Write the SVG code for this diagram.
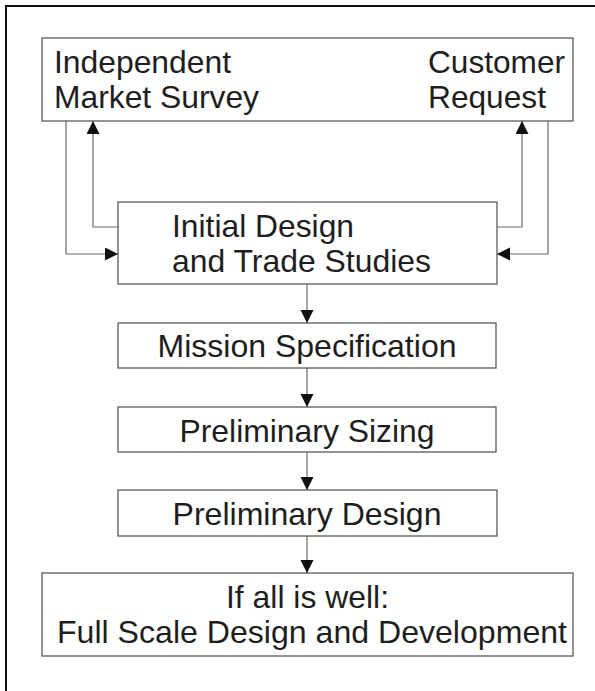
<svg xmlns="http://www.w3.org/2000/svg" width="595" height="691" viewBox="0 0 595 691">
  <style>
    .box { fill: #ffffff; stroke: #5a5a5a; stroke-width: 1.3; }
    .lbl { font-family: "Liberation Sans", Arial, sans-serif; font-size: 30.5px; fill: #1e1e1e; }
    .mid { text-anchor: middle; }
    .wire { fill: none; stroke: #6a6a6a; stroke-width: 1.2; }
  </style>
  <defs>
    <marker id="head" markerUnits="userSpaceOnUse" markerWidth="14" markerHeight="14" refX="13" refY="6.5" orient="auto">
      <path d="M0,0 L13,6.5 L0,13 z" fill="#111111"/>
    </marker>
  </defs>

  <rect width="595" height="691" fill="#ffffff"/>
  <!-- outer frame -->
  <path d="M6,700 L6,6 L600,6" fill="none" stroke="#111111" stroke-width="2"/>

  <g id="sources">
    <rect class="box" x="42" y="38" width="531" height="83"/>
    <text class="lbl" x="54" y="73" textLength="177" lengthAdjust="spacingAndGlyphs">Independent</text>
    <text class="lbl" x="54" y="108" textLength="205" lengthAdjust="spacingAndGlyphs">Market Survey</text>
    <text class="lbl" x="428" y="73" textLength="137" lengthAdjust="spacingAndGlyphs">Customer</text>
    <text class="lbl" x="428" y="108" textLength="118" lengthAdjust="spacingAndGlyphs">Request</text>
  </g>

  <g id="initial-design">
    <rect class="box" x="118" y="202" width="379" height="82"/>
    <text class="lbl" x="172" y="237" textLength="182" lengthAdjust="spacingAndGlyphs">Initial Design</text>
    <text class="lbl" x="172" y="272" textLength="259" lengthAdjust="spacingAndGlyphs">and Trade Studies</text>
  </g>

  <g id="mission-spec">
    <rect class="box" x="118" y="323" width="378" height="45"/>
    <text class="lbl mid" x="307" y="357" textLength="299" lengthAdjust="spacingAndGlyphs">Mission Specification</text>
  </g>

  <g id="prelim-sizing">
    <rect class="box" x="118" y="407" width="378" height="45"/>
    <text class="lbl mid" x="307" y="442" textLength="255" lengthAdjust="spacingAndGlyphs">Preliminary Sizing</text>
  </g>

  <g id="prelim-design">
    <rect class="box" x="118" y="490" width="379" height="46"/>
    <text class="lbl mid" x="307" y="525" textLength="269" lengthAdjust="spacingAndGlyphs">Preliminary Design</text>
  </g>

  <g id="full-scale">
    <rect class="box" x="42" y="573" width="531" height="83"/>
    <text class="lbl mid" x="307.5" y="608" textLength="163" lengthAdjust="spacingAndGlyphs">If all is well:</text>
    <text class="lbl" x="57" y="643" textLength="510" lengthAdjust="spacingAndGlyphs">Full Scale Design and Development</text>
  </g>

  <g id="connectors">
    <!-- feedback loops with the sources -->
    <path class="wire" d="M66,121 L66,254 L118,254" marker-end="url(#head)"/>
    <path class="wire" d="M118,227 L93,227 L93,121" marker-end="url(#head)"/>
    <path class="wire" d="M497,227 L522,227 L522,121" marker-end="url(#head)"/>
    <path class="wire" d="M548,121 L548,254 L497,254" marker-end="url(#head)"/>
    <!-- main chain -->
    <path class="wire" d="M307,284 L307,323" marker-end="url(#head)"/>
    <path class="wire" d="M307,368 L307,407" marker-end="url(#head)"/>
    <path class="wire" d="M307,452 L307,490" marker-end="url(#head)"/>
    <path class="wire" d="M307,536 L307,573" marker-end="url(#head)"/>
  </g>
</svg>
